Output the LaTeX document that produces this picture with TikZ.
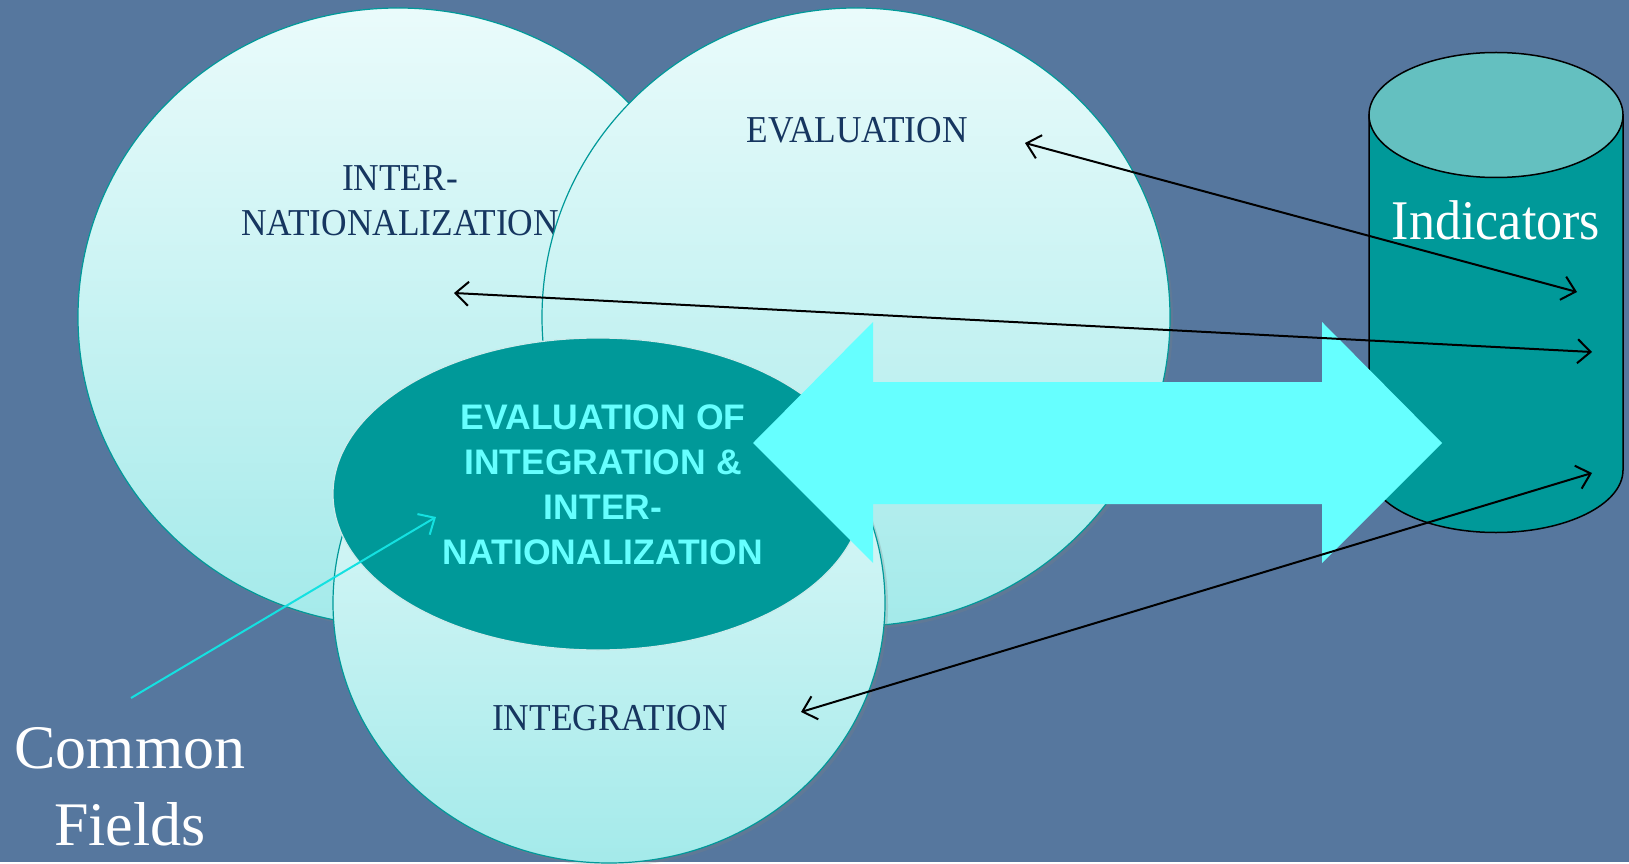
\documentclass[tikz,border=0pt]{standalone}
\usepackage{fontspec}
\setmainfont{Liberation Serif}
\setsansfont{Liberation Sans}
\newfontfamily\narrowserif[FakeStretch = 0.93]{Liberation Serif}
\usetikzlibrary{arrows.meta, shadows}

\definecolor{slideblue}{RGB}{86,119,158}
\definecolor{bubbletop}{RGB}{234,251,251}
\definecolor{bubblebottom}{RGB}{164,234,234}
\definecolor{tealfill}{RGB}{0,153,153}
\definecolor{tealcap}{RGB}{100,192,192}
\definecolor{aqua}{RGB}{102,255,255}
\definecolor{inknavy}{RGB}{22,54,96}
\definecolor{pointercyan}{RGB}{20,225,225}

\tikzset{
    bubble/.style    = {draw = tealfill, line width = 1.2pt,
                        top color = bubbletop, bottom color = bubblebottom,
                        drop shadow = {shadow xshift = 3pt, shadow yshift = -3pt, opacity = .25}},
    fieldtext/.style = {text = inknavy, inner sep = 0pt, align = center,
                        font = \narrowserif\fontsize{38}{45}\selectfont},
    barb/.tip        = {Straight Barb[length = 13pt, width = 24pt]},
    link/.style      = {barb-barb, line width = 2pt, black},
}

\begin{document}
\begin{tikzpicture}[x = 1pt, y = -1pt]

    \def\width  {1629}
    \def\height {862}

    % slide
    \path [fill = slideblue] (0, 0) rectangle (\width, \height);

    % internationalization
    \path [bubble] (398, 317) ellipse [x radius = 320, y radius = 309];
    \node [fieldtext] (inter) at (400, 201) {INTER-\\NATIONALIZATION};

    % evaluation
    \path [bubble] (856, 317) ellipse [x radius = 314, y radius = 309];
    \node [fieldtext, anchor = base] (eval) at (857, 143) {EVALUATION};

    % integration
    \path [bubble] (609, 603) ellipse [x radius = 276, y radius = 260];
    \node [fieldtext, anchor = base] (integ) at (610, 730) {INTEGRATION};

    % overlap of the three
    \path [fill = tealfill, draw = white!80!tealfill, line width = 1.2pt]
        (598, 494) ellipse [x radius = 265, y radius = 156];
    \node [text = aqua, inner sep = 0pt, align = center,
           font = \sffamily\bfseries\fontsize{35.5}{45}\selectfont] (overlap) at (603, 485)
        {EVALUATION OF\\INTEGRATION \&\\INTER-\\NATIONALIZATION};

    % indicators (cylinder)
    \def\cx {1496}
    \def\rx {127}
    \def\ry {62.5}
    \path [fill = tealfill, draw = black, line width = 1.5pt]
        (\cx - \rx, 115) -- (\cx - \rx, 470)
        arc [start angle = 180, end angle = 0, x radius = \rx, y radius = \ry]
        -- (\cx + \rx, 115) -- cycle;
    \path [fill = tealcap, draw = black, line width = 1.5pt]
        (\cx, 115) ellipse [x radius = \rx, y radius = \ry];
    \node [white, inner sep = 0pt, anchor = base, font = \narrowserif\fontsize{56}{60}\selectfont]
        (indicators) at (\cx, 240) {Indicators};

    % big two-way arrow
    \path [fill = aqua] (753, 443) -- (873, 322) -- (873, 382) -- (1322, 382)
        -- (1322, 322) -- (1442, 443) -- (1322, 563) -- (1322, 504)
        -- (873, 504) -- (873, 563) -- cycle;

    % links between fields and indicators
    \coordinate (eval-end)  at (1025, 143);
    \coordinate (inter-end) at (454, 293);
    \coordinate (integ-end) at (801, 712);
    \coordinate (ind-a)     at (1577, 292);
    \coordinate (ind-b)     at (1592, 352);
    \coordinate (ind-c)     at (1592, 473);
    \draw [link] (eval-end)  -- (ind-a);
    \draw [link] (inter-end) -- (ind-b);
    \draw [link] (integ-end) -- (ind-c);

    % common fields
    \node [white, inner sep = 0pt, align = center, font = \fontsize{62}{77}\selectfont]
        (fields) at (130, 787) {Common\\Fields};
    \coordinate (fields-tail) at (131, 698);
    \coordinate (fields-head) at (436, 517);
    \draw [-barb, line width = 2pt, pointercyan] (fields-tail) -- (fields-head);

\end{tikzpicture}
\end{document}
